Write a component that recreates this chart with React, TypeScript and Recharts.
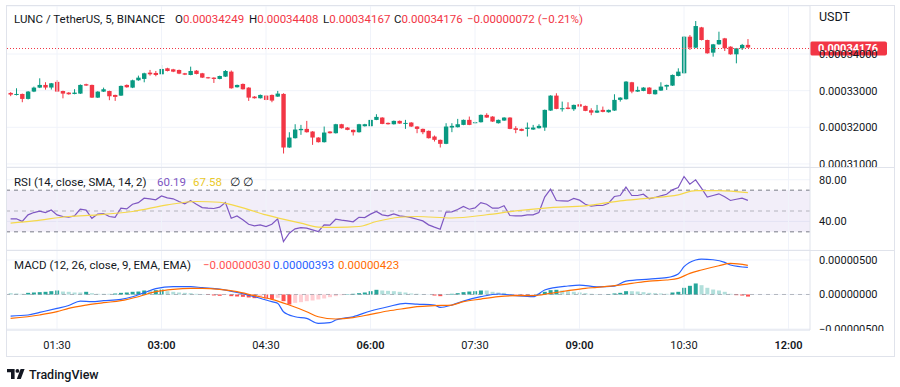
import React from 'react'
import {
  ComposedChart,
  Bar,
  Line,
  XAxis,
  YAxis,
  CartesianGrid,
  ReferenceLine,
  ReferenceArea,
  Cell,
} from 'recharts'

// LUNC / TetherUS, 5m candles. Prices and MACD values are in 1e-8 USDT.
const firstCandle = '00:50'
const candleMinutes = 5

const opens = [
  32938, 32893, 32910, 32775, 32975, 33083, 33156, 33085, 33240, 32990,
  32947, 32910, 32920, 33175, 33156, 32810, 32974, 32990, 32883, 32865,
  33156, 33083, 33283, 33320, 33492, 33483, 33447, 33610, 33582, 33564,
  33474, 33428, 33546, 33474, 33365, 33355, 33320, 33383, 33519, 33093,
  33183, 33083, 32838, 32793, 32865, 32883, 32838, 32911, 31449, 31703,
  31921, 31957, 31885, 31721, 31594, 31885, 31839, 32084, 31993, 31930,
  31866, 32030, 32030, 32202, 32266, 32121, 32084, 32175, 32103, 32130,
  32021, 31957, 31903, 31748, 31658, 31549, 31993, 32003, 32066, 32203,
  32112, 32139, 32339, 32293, 32112, 32184, 32266, 31975, 31957, 31957,
  31939, 31975, 31993, 32457, 32865, 32493, 32538, 32493, 32629, 32584,
  32466, 32400, 32475, 32412, 32457, 32748, 32766, 33229, 32975, 32993,
  33084, 32902, 33002, 33111, 33138, 33401, 33474, 34473, 34173, 34727,
  34382, 34037, 34264, 34427, 34200, 33992, 34155, 34249,
]
const highs = [
  32960, 33065, 32920, 32990, 33110, 33337, 33230, 33210, 33290, 33000,
  32960, 33040, 33170, 33190, 33165, 32985, 33083, 33000, 32890, 33140,
  33170, 33300, 33410, 33490, 33565, 33537, 33700, 33625, 33595, 33575,
  33485, 33655, 33560, 33485, 33375, 33365, 33410, 33560, 33550, 33165,
  33195, 33095, 32850, 32895, 32875, 32895, 32993, 32930, 31866, 32084,
  32066, 32175, 31895, 31730, 32021, 31895, 32095, 32095, 32005, 31940,
  32095, 32095, 32212, 32357, 32275, 32130, 32185, 32185, 32203, 32140,
  32030, 31965, 31912, 31776, 31665, 32112, 32112, 32230, 32212, 32293,
  32150, 32350, 32384, 32303, 32212, 32275, 32275, 32030, 31965, 32130,
  32066, 32084, 32485, 32875, 32929, 32702, 32684, 32620, 32720, 32593,
  32520, 32611, 32566, 32485, 32902, 32820, 33260, 33240, 33111, 33095,
  33095, 33030, 33229, 33165, 33440, 33610, 34490, 34518, 34900, 34740,
  34390, 34275, 34609, 34440, 34210, 34165, 34275, 34408,
]
const lows = [
  32850, 32870, 32684, 32760, 32960, 33070, 33029, 33030, 32965, 32790,
  32890, 32900, 32910, 33130, 32800, 32800, 32965, 32740, 32720, 32855,
  33080, 33070, 33270, 33228, 33410, 33392, 33440, 33525, 33505, 33450,
  33425, 33420, 33445, 33345, 33330, 33210, 33310, 33375, 33055, 33085,
  33030, 32720, 32785, 32785, 32740, 32684, 32830, 31285, 31440, 31695,
  31794, 31855, 31521, 31585, 31585, 31830, 31830, 31965, 31920, 31776,
  31855, 32020, 32020, 32195, 32085, 32075, 32075, 32095, 31957, 32010,
  31839, 31812, 31695, 31612, 31449, 31540, 31867, 31995, 32058, 32058,
  32100, 32130, 32258, 32148, 32103, 32175, 31948, 31839, 31895, 31748,
  31930, 31966, 31903, 32448, 32493, 32430, 32493, 32448, 32557, 32440,
  32330, 32390, 32410, 32400, 32448, 32702, 32757, 32929, 32965, 32985,
  32902, 32893, 32993, 33020, 33130, 33390, 33465, 34110, 34160, 34370,
  34010, 33928, 34255, 34082, 33980, 33746, 34110, 34167,
]
const closes = [
  32893, 32910, 32775, 32975, 33083, 33156, 33085, 33201, 32975, 32920,
  32902, 32947, 33156, 33140, 32810, 32974, 33038, 32847, 32830, 33129,
  33093, 33283, 33355, 33474, 33447, 33428, 33592, 33537, 33519, 33465,
  33437, 33537, 33456, 33356, 33337, 33320, 33400, 33537, 33065, 33156,
  33038, 32810, 32793, 32883, 32747, 32729, 32920, 31449, 31721, 31939,
  31957, 31866, 31721, 31594, 31857, 31839, 32084, 31975, 31930, 31866,
  32084, 32084, 32202, 32284, 32093, 32084, 32175, 32103, 32120, 32021,
  31957, 31866, 31703, 31658, 31549, 32021, 32039, 32084, 32203, 32066,
  32139, 32339, 32266, 32157, 32203, 32266, 31957, 31930, 31903, 31993,
  31993, 32039, 32475, 32865, 32502, 32520, 32502, 32611, 32566, 32448,
  32400, 32457, 32421, 32475, 32748, 32811, 33247, 32975, 33020, 33084,
  32911, 33020, 33111, 33156, 33429, 33519, 34473, 34173, 34763, 34382,
  34019, 34264, 34382, 34155, 33992, 34155, 34248, 34176,
]

// RSI (14) per candle
const rsi = [
  42.5, 42.5, 40, 46.3, 48.5, 49.8, 48.5, 51, 46.3, 44.7,
  44, 45.3, 51.7, 50.8, 43, 47, 47.6, 44.7, 44, 52.7,
  52, 56.5, 58, 62.3, 61.7, 60.7, 64.5, 62.6, 61.7, 59.1,
  56.9, 60, 56.5, 53.3, 52.7, 52.4, 53.7, 58.1, 43, 45.3,
  41.5, 37.3, 35.7, 36.7, 35.1, 37.3, 42.5, 20.7, 28.7, 32.9,
  34.1, 33.5, 31.9, 30.3, 36.7, 36.4, 42.1, 41.2, 40.5, 39.6,
  44, 43.7, 47, 49.5, 46.3, 45.3, 47.3, 45.3, 44.7, 43.7,
  42.1, 40.5, 36.7, 34.5, 32.5, 48.9, 49.2, 51.4, 54.3, 51.7,
  53, 58.1, 56.5, 52.7, 52.7, 55, 45.7, 45.3, 45.3, 46.3,
  46.3, 48.5, 63.3, 70.9, 60.1, 59.7, 59.4, 62, 60.4, 56.5,
  54.6, 55.3, 55.3, 57.5, 63.9, 64.9, 72.9, 64.9, 64.9, 66.1,
  61.7, 63, 64.5, 66.1, 70.3, 72.5, 83.1, 75.7, 79.9, 71.9,
  63.3, 64.9, 66.5, 63.6, 60.1, 61.3, 62.3, 60.19,
]
// RSI-based SMA (14), read at [candle index, value]
const rsiMa: [number, number][] = [
  [0, 38.3], [4, 40.5], [10, 44.7], [15, 46.3], [21, 49.5], [27, 55.9],
  [32, 59.1], [36, 58.4], [38, 56.1], [44, 46.3], [50, 38.3], [53, 34.6],
  [56, 34.3], [60, 35.1], [63, 39.9], [67, 44], [70, 44.7], [76, 43.3],
  [82, 46.4], [87, 50.1], [93, 53.3], [99, 55], [105, 59.8], [110, 62.3],
  [115, 65.5], [118, 69.6], [122, 69.6], [127, 67.58],
]
const rsiBands = [70, 50, 30]

// MACD (12, 26, 9), read at [candle index, value]
const macdLine: [number, number][] = [
  [0, -312], [3, -297], [5, -259], [8, -201], [10, -160], [12, -95],
  [14, -104], [16, -90], [19, -70], [21, -32], [23, 26], [25, 85],
  [28, 113], [31, 113], [33, 99], [36, 79], [39, 31], [42, -32],
  [45, -104], [46, -128], [47, -249], [49, -322], [51, -346], [53, -418],
  [55, -408], [56, -370], [59, -322], [62, -239], [65, -177], [68, -128],
  [70, -140], [73, -153], [74, -186], [76, -153], [78, -95], [81, -32],
  [84, 7], [87, -17], [90, -32], [92, 65], [96, 123], [98, 137],
  [101, 111], [104, 120], [106, 195], [110, 224], [113, 244], [115, 297],
  [116, 403], [118, 500], [119, 514], [121, 504], [123, 466], [124, 427],
  [127, 393],
]
const signalLine: [number, number][] = [
  [0, -346], [5, -297], [8, -249], [10, -201], [13, -153], [16, -119],
  [19, -90], [22, -32], [25, 41], [28, 75], [31, 89], [33, 89],
  [36, 75], [39, 41], [42, -17], [45, -70], [48, -153], [51, -249],
  [53, -322], [56, -355], [59, -336], [62, -288], [65, -239], [68, -201],
  [70, -177], [73, -162], [76, -153], [78, -104], [81, -66], [84, -32],
  [87, -17], [90, -17], [93, 17], [96, 55], [99, 89], [101, 103],
  [104, 128], [107, 161], [110, 195], [113, 210], [115, 234], [117, 306],
  [119, 355], [122, 417], [124, 451], [127, 423],
]
const histogram = [
  20, 15, 10, 24, 29, 34, 39, 48, 58, 43,
  39, 29, 29, 39, 19, 10, 10, 10, 14, 24,
  29, 39, 43, 58, 58, 63, 72, 48, 39, 29,
  24, 19, 10, 5, -5, -14, -19, -5, -24, -29,
  -34, -43, -53, -39, -58, -68, -48, -97, -145, -121,
  -111, -97, -87, -72, -58, -39, -24, -10, 5, 10,
  19, 29, 48, 68, 58, 53, 48, 39, 29, 15,
  10, 5, 2, -15, -24, 2, 10, 19, 34, 43,
  48, 58, 58, 39, 29, 24, 5, -5, -15, -15,
  -10, 10, 39, 63, 68, 58, 48, 39, 29, 19,
  10, 5, 2, 5, 15, 24, 48, 48, 43, 34,
  24, 19, 15, 10, 29, 39, 97, 126, 160, 135,
  97, 72, 58, 39, 10, -10, -15, -30,
]

const timeTicks = ['01:30', '03:00', '04:30', '06:00', '07:30', '09:00', '10:30', '12:00']
const boldTicks = ['03:00', '06:00', '09:00', '12:00']
const priceTicks = [31000, 32000, 33000, 34000]
const rsiTicks = [40, 80]
const macdTicks = [-500, 0, 500]

const TEXT = '#131722'
const GRID = '#f0f3fa'
const BORDER = '#e0e3eb'
const GREEN = '#089981'
const RED = '#F23645'
const RSI_COLOR = '#7E57C2'
const MA_COLOR = '#F5D84A'
const MACD_COLOR = '#2962FF'
const SIGNAL_COLOR = '#FF6D00'

const W = 889
const AXIS_W = 85
const X_DOMAIN: [number, number] = [46.9, 738.5]
const MARGIN = { top: 0, right: 0, bottom: 0, left: 1 }

const toMin = (s: string) => {
  const [h, m] = s.split(':').map(Number)
  return h * 60 + m
}
const start = toMin(firstCandle)
const tAt = (i: number) => start + i * candleMinutes
const fmtTime = (t: number) =>
  `${String(Math.floor(t / 60)).padStart(2, '0')}:${String(t % 60).padStart(2, '0')}`
const fmtPrice = (v: number) => (v < 0 ? '\u2212' : '') + (Math.abs(v) / 1e8).toFixed(8)

const candles = opens.map((o, i) => ({
  t: tAt(i),
  open: o,
  high: highs[i],
  low: lows[i],
  close: closes[i],
  range: [lows[i], highs[i]],
}))
const rsiRows = rsi.map((v, i) => ({ t: tAt(i), rsi: v }))
const toRows = (pairs: [number, number][]) => pairs.map(([i, v]) => ({ t: tAt(i), v }))
const histRows = histogram.map((h, i) => ({ t: tAt(i), h }))

const histColor = (i: number) => {
  const h = histogram[i]
  const prev = i > 0 ? histogram[i - 1] : h
  if (h >= 0) return prev < h ? '#26A69A' : '#B2DFDB'
  return prev < h ? '#FFCDD2' : '#FF5252'
}

const last = opens.length - 1
const change = closes[last] - closes[last - 1]
const changePct = (change / closes[last - 1]) * 100

const axisTick = { fontSize: 11, fill: TEXT }

const Candle = (props: any) => {
  const { x, y, width, height, payload } = props
  const { open, close, high, low } = payload
  const color = close >= open ? GREEN : RED
  const top = Math.min(y, y + height)
  const h = Math.abs(height)
  const ratio = high === low ? 0 : h / (high - low)
  const yOf = (v: number) => top + (high - v) * ratio
  const bodyTop = yOf(Math.max(open, close))
  const bodyBot = yOf(Math.min(open, close))
  const cx = x + width / 2
  return (
    <g>
      <line x1={cx} x2={cx} y1={top} y2={top + h} stroke={color} strokeWidth={1} />
      <rect x={cx - 2.2} y={bodyTop} width={4.4} height={Math.max(1, bodyBot - bodyTop)} fill={color} />
    </g>
  )
}

// dotted last-price line across the plot plus the red tag on the price scale
const PriceTag = (props: any) => {
  const vb = props.viewBox
  const x = vb.x + vb.width
  const y = Math.round(vb.y) + 0.5
  return (
    <g>
      <line x1={vb.x} x2={x} y1={y} y2={y} stroke={RED} strokeWidth={1} strokeDasharray="1 2" />
      <rect x={x} y={y - 7} width={77} height={14} rx={2} fill={RED} />
      <text x={x + 8} y={y} dy="0.35em" fill="#fff" fontSize={11} fontWeight={700}>
        {fmtPrice(closes[last])}
      </text>
    </g>
  )
}

const TimeTick = (props: any) => {
  const { x, payload } = props
  const label = fmtTime(payload.value)
  return (
    <text
      x={x}
      y={95}
      dy="0.35em"
      textAnchor="middle"
      fontSize={11}
      fill={TEXT}
      fontWeight={boldTicks.includes(label) ? 600 : 400}
    >
      {label}
    </text>
  )
}

const vGrid = timeTicks.map((s) => (
  <ReferenceLine key={s} x={toMin(s)} stroke={GRID} ifOverflow="extendDomain" />
))

const abs = (left: number, top: number, extra: React.CSSProperties = {}): React.CSSProperties => ({
  position: 'absolute',
  left,
  top,
  ...extra,
})

const legendText: React.CSSProperties = {
  fontSize: 11.5,
  lineHeight: '14px',
  color: TEXT,
  whiteSpace: 'pre',
}

export default function App() {
  return (
    <div
      style={{
        position: 'absolute',
        left: 0,
        top: 0,
        width: 900,
        height: 387,
        background: '#fff',
        fontFamily: 'Roboto, "Noto Sans", sans-serif',
        overflow: 'hidden',
      }}
    >
      <div style={abs(6, 5, { width: 889, height: 352, border: `1px solid ${BORDER}`, boxSizing: 'border-box' })} />

      {/* Price pane */}
      <div style={abs(6, 6, { width: W, height: 161, overflow: 'hidden' })}>
        <ComposedChart width={W} height={161} data={candles} margin={MARGIN}>
          <CartesianGrid vertical={false} stroke={GRID} />
          <XAxis dataKey="t" type="number" domain={X_DOMAIN} allowDataOverflow hide />
          <YAxis
            orientation="right"
            width={AXIS_W}
            domain={[30917, 35310]}
            allowDataOverflow
            ticks={priceTicks}
            interval={0}
            tickFormatter={fmtPrice}
            tick={axisTick}
            tickLine={false}
            tickMargin={3}
            axisLine={{ stroke: BORDER }}
          />
          {vGrid}
          <Bar dataKey="range" barSize={4} shape={(p: any) => <Candle {...p} />} isAnimationActive={false} />
          <ReferenceLine y={closes[last]} stroke="none" label={PriceTag} />
        </ComposedChart>
      </div>

      {/* RSI pane */}
      <div style={abs(6, 167, { width: W, height: 83, overflow: 'hidden' })}>
        <ComposedChart width={W} height={83} data={rsiRows} margin={MARGIN}>
          <CartesianGrid vertical={false} stroke={GRID} />
          <XAxis dataKey="t" type="number" domain={X_DOMAIN} allowDataOverflow hide />
          <YAxis
            orientation="right"
            width={AXIS_W}
            domain={[12.57, 92.23]}
            allowDataOverflow
            ticks={rsiTicks}
            interval={0}
            tickFormatter={(v: number) => v.toFixed(2)}
            tick={axisTick}
            tickLine={false}
            tickMargin={3}
            axisLine={{ stroke: BORDER }}
          />
          {vGrid}
          <ReferenceArea y1={rsiBands[2]} y2={rsiBands[0]} fill={RSI_COLOR} fillOpacity={0.1} stroke="none" />
          {rsiBands.map((b, i) => (
            <ReferenceLine
              key={b}
              y={b}
              stroke="#787B86"
              strokeOpacity={i === 1 ? 0.5 : 1}
              strokeDasharray="4 4"
            />
          ))}
          <Line dataKey="rsi" type="linear" stroke={RSI_COLOR} strokeWidth={1.2} dot={false} activeDot={false} isAnimationActive={false} />
          <Line data={toRows(rsiMa)} dataKey="v" type="monotone" stroke={MA_COLOR} strokeWidth={1.2} dot={false} activeDot={false} isAnimationActive={false} />
        </ComposedChart>
      </div>

      {/* MACD pane + time axis */}
      <div style={abs(6, 250, { width: W, height: 107, overflow: 'hidden' })}>
        <ComposedChart width={W} height={107} data={histRows} margin={MARGIN}>
          <CartesianGrid vertical={false} stroke={GRID} />
          <XAxis
            dataKey="t"
            type="number"
            domain={X_DOMAIN}
            allowDataOverflow
            ticks={timeTicks.map(toMin)}
            interval={0}
            height={27}
            tickLine={false}
            tickSize={0}
            axisLine={{ stroke: BORDER }}
            tick={(p: any) => <TimeTick {...p} />}
          />
          <YAxis
            orientation="right"
            width={AXIS_W}
            domain={[-514.5, 644.9]}
            allowDataOverflow
            ticks={macdTicks}
            interval={0}
            tickFormatter={fmtPrice}
            tick={axisTick}
            tickLine={false}
            tickMargin={3}
            axisLine={{ stroke: BORDER }}
          />
          {vGrid}
          <ReferenceLine y={0} stroke="#787B86" strokeOpacity={0.5} strokeDasharray="4 4" />
          <Bar dataKey="h" barSize={4} isAnimationActive={false}>
            {histRows.map((r, i) => (
              <Cell key={r.t} fill={histColor(i)} />
            ))}
          </Bar>
          <Line data={toRows(macdLine)} dataKey="v" type="monotone" stroke={MACD_COLOR} strokeWidth={1.2} dot={false} activeDot={false} isAnimationActive={false} />
          <Line data={toRows(signalLine)} dataKey="v" type="monotone" stroke={SIGNAL_COLOR} strokeWidth={1.2} dot={false} activeDot={false} isAnimationActive={false} />
        </ComposedChart>
      </div>

      {/* empty corner under the price scale */}
      <div style={abs(811, 331, { width: 83, height: 25, background: '#fff' })} />

      {/* pane separators */}
      <div style={abs(6, 167, { width: 889, height: 1, background: BORDER })} />
      <div style={abs(6, 250, { width: 889, height: 1, background: BORDER })} />

      {/* legends */}
      <div style={abs(14, 12, legendText)}>LUNC / TetherUS, 5, BINANCE</div>
      {[
        ['O', opens[last], 175],
        ['H', highs[last], 249],
        ['L', lows[last], 323],
        ['C', closes[last], 394],
      ].map(([k, v, x]) => (
        <div key={k as string} style={abs(x as number, 12, legendText)}>
          {k}
          <span style={{ color: RED }}>{fmtPrice(v as number)}</span>
        </div>
      ))}
      <div style={abs(467, 12, { ...legendText, color: RED })}>
        {fmtPrice(change)} ({changePct < 0 ? '\u2212' : ''}{Math.abs(changePct).toFixed(2)}%)
      </div>
      <div style={abs(819, 10, { ...legendText, fontSize: 12.5 })}>USDT</div>

      <div style={abs(14, 175, legendText)}>RSI (14, close, SMA, 14, 2)</div>
      <div style={abs(157, 175, { ...legendText, color: RSI_COLOR })}>{rsi[last].toFixed(2)}</div>
      <div style={abs(193, 175, { ...legendText, color: '#EAC92A' })}>{rsiMa[rsiMa.length - 1][1].toFixed(2)}</div>
      <div style={abs(230, 175, legendText)}>∅</div>
      <div style={abs(243, 175, legendText)}>∅</div>

      <div style={abs(14, 258, legendText)}>MACD (12, 26, close, 9, EMA, EMA)</div>
      <div style={abs(203, 258, { ...legendText, color: '#FF5252' })}>{fmtPrice(histogram[last])}</div>
      <div style={abs(273, 258, { ...legendText, color: MACD_COLOR })}>{fmtPrice(macdLine[macdLine.length - 1][1])}</div>
      <div style={abs(338, 258, { ...legendText, color: SIGNAL_COLOR })}>{fmtPrice(signalLine[signalLine.length - 1][1])}</div>

      {/* TradingView mark */}
      <svg width={20} height={11} style={abs(7, 369)}>
        <path d="M0 0H7.6V10H4V3.3H0Z" fill={TEXT} />
        <circle cx={10.4} cy={1.9} r={1.9} fill={TEXT} />
        <path d="M13.6 0H17.6L13.8 10H9.8Z" fill={TEXT} />
      </svg>
      <div style={abs(29, 368, { fontSize: 12.5, lineHeight: '14px', color: TEXT, fontWeight: 500 })}>TradingView</div>
    </div>
  )
}
